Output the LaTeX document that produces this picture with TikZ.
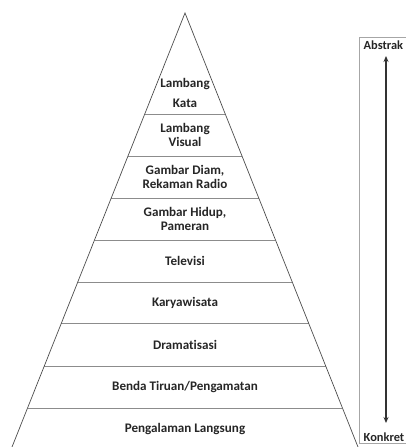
\documentclass[tikz,border=0pt]{standalone}
\usepackage{fontspec}
\setmainfont{Carlito}[Ligatures={NoCommon}]
\usetikzlibrary{arrows.meta}
\begin{document}
\begin{tikzpicture}[x=1pt,y=-1pt,
  lbl/.style={font=\bfseries\fontsize{13.1}{14.5}\selectfont, text=black!85, align=center, inner sep=0pt},
  side/.style={lbl, font=\bfseries\fontsize{12.4}{14}\selectfont, anchor=west},
  band/.style={draw=black!45, line width=0.8pt},
  edge/.style={draw=black!70, line width=0.7pt},
  frame/.style={draw=black!35, line width=0.8pt},
  axis/.style={draw=black!80, line width=1.1pt, {Stealth[length=6pt,width=5pt]}-{Stealth[length=6pt,width=5pt]}}]
\useasboundingbox (0,0) rectangle (406,447);
% triangle
\coordinate (apex) at (185,13);
\coordinate (bl) at (12,447);
\coordinate (br) at (358,447);
\foreach \y in {114,156,198,240,282,323,366,408}{
  \pgfmathsetmacro{\hw}{0.398618*(\y-13)}
  \draw[band] ({185-\hw},\y) -- ({185+\hw},\y);
}
\draw[edge] (bl) -- (apex) -- (br);
% labels
\node[lbl] (l1a) at (185,84) {Lambang};
\node[lbl] (l1b) at (185,103) {Kata};
\node[lbl] (l2) at (185,135) {Lambang\\[-0.5pt]Visual};
\node[lbl] (l3) at (185,177) {Gambar Diam,\\[-0.5pt]Rekaman Radio};
\node[lbl] (l4) at (185,219) {Gambar Hidup,\\[-0.5pt]Pameran};
\node[lbl] (l5) at (185,261) {Televisi};
\node[lbl] (l6) at (185,303) {Karyawisata};
\node[lbl] (l7) at (185,345) {Dramatisasi};
\node[lbl] (l8) at (185,387) {Benda Tiruan/Pengamatan};
\node[lbl] (l9) at (185,429) {Pengalaman Langsung};
% right frame
\draw[frame] (410,37) -- (359,37) -- (359,443) -- (410,443);
\node[side] (abs) at (363.5,45) {Abstrak};
\node[side] (kon) at (363.5,437) {Konkret};
\coordinate (atop) at (386,56);
\coordinate (abot) at (386,423);
\draw[axis] (atop) -- (abot);
\end{tikzpicture}
\end{document}
